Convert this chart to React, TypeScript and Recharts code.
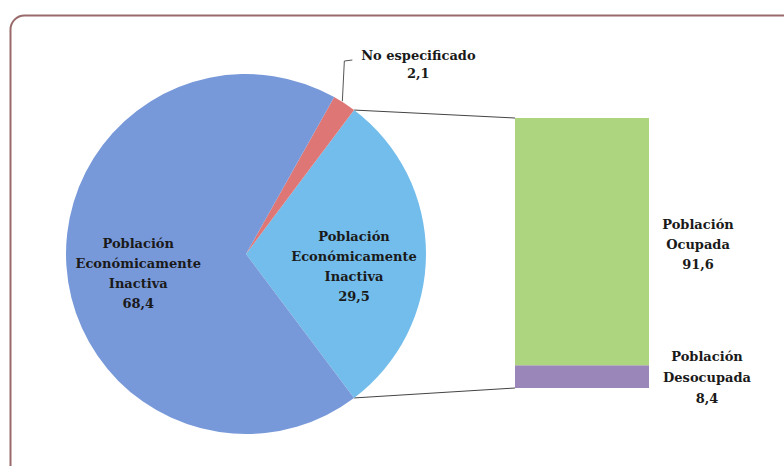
import React from "react";
import { PieChart, Pie, Cell, BarChart, Bar, XAxis, YAxis } from "recharts";

// pie: population by activity status (%)
const pieNames = ["Población Económicamente Inactiva", "No especificado", "Población Económicamente Inactiva"];
const pieLines = [
  ["Población", "Económicamente", "Inactiva"],
  ["No especificado"],
  ["Población", "Económicamente", "Inactiva"],
];
const pieValues = [29.5, 2.1, 68.4];
const pieColors = ["#72bdeb", "#de7676", "#7899d9"];

// bar: breakdown of the exploded slice (%)
const barNames = ["Población Desocupada", "Población Ocupada"];
const barLines = [["Población", "Desocupada"], ["Población", "Ocupada"]];
const barValues = [8.4, 91.6];
const barColors = ["#9a86b8", "#add580"];

const W = 784;
const H = 466;
const CX = 246;
const CY = 254;
const R = 180;
const BAR = { left: 515, right: 649, top: 118, bottom: 388 };

const FONT = "'DejaVu Serif', 'Liberation Serif', serif";
const fmt = (v: number) => v.toFixed(1).replace(".", ",");
const RAD = Math.PI / 180;

const pieData = pieValues.map((v, i) => ({ name: pieNames[i], lines: pieLines[i], value: v }));
const barRow: Record<string, number | string> = { cat: "PEA" };
barNames.forEach((n, i) => (barRow[n] = barValues[i]));

// the exploded slice is centered on the right side
const startAngle = -(pieValues[0] / 100) * 180;

function PieLabel(props: any) {
  const { cx, cy, midAngle, outerRadius, index, payload } = props;
  const lines: string[] = payload.lines ?? pieLines[index];
  const value = pieValues[index];
  const txt = { fontFamily: FONT, fontSize: 13, fontWeight: 700, fill: "#1a1a1a" };
  if (index === 1) {
    const ex = cx + outerRadius * Math.cos(midAngle * RAD);
    const ey = cy - outerRadius * Math.sin(midAngle * RAD);
    const ly = 61;
    return (
      <g>
        <path d={`M${ex - 2},${ey - 2} L${ex},${ly} L${ex + 8},${ly - 1}`} stroke="#555" fill="none" strokeWidth={1} />
        <text x={ex + 74} y={ly - 1} textAnchor="middle" style={txt}>{lines[0]}</text>
        <text x={ex + 74} y={ly + 17} textAnchor="middle" style={txt}>{fmt(value)}</text>
      </g>
    );
  }
  const rr = outerRadius * 0.6;
  const x = cx + rr * Math.cos(midAngle * RAD);
  const y = cy - rr * Math.sin(midAngle * RAD) + 12;
  const all = [...lines, fmt(value)];
  const top = y - ((all.length - 1) * 20) / 2;
  return (
    <g>
      {all.map((l, k) => (
        <text key={k} x={x} y={top + k * 20} textAnchor="middle" dominantBaseline="central" style={txt}>{l}</text>
      ))}
    </g>
  );
}

export default function App() {
  const a0 = startAngle * RAD;
  const a1 = -startAngle * RAD;
  const p0 = { x: CX + R * Math.cos(a1), y: CY - R * Math.sin(a1) };
  const p1 = { x: CX + R * Math.cos(a0), y: CY - R * Math.sin(a0) };
  const txt = { fontFamily: FONT, fontSize: 13, fontWeight: 700, fill: "#1a1a1a" };
  const barH = BAR.bottom - BAR.top;
  const ocTop = BAR.top;
  const deTop = BAR.bottom - (barValues[0] / 100) * barH;
  return (
    <div style={{ position: "absolute", left: 0, top: 0, width: W, height: H, background: "#fff", overflow: "hidden" }}>
      <svg width={W} height={H} style={{ position: "absolute", left: 0, top: 0 }}>
        <rect x={10.5} y={15.5} width={800} height={470} rx={14} fill="none" stroke="#9a6a6a" strokeWidth={2} />
        <line x1={p0.x} y1={p0.y} x2={BAR.left} y2={BAR.top} stroke="#444" strokeWidth={1} />
        <line x1={p1.x} y1={p1.y} x2={BAR.left} y2={BAR.bottom} stroke="#444" strokeWidth={1} />
      </svg>
      <div style={{ position: "absolute", left: 0, top: 0 }}>
        <PieChart width={W} height={H} margin={{ top: 0, right: 0, bottom: 0, left: 0 }}>
          <Pie
            data={pieData}
            dataKey="value"
            cx={CX}
            cy={CY}
            outerRadius={R}
            startAngle={startAngle}
            endAngle={startAngle + 360}
            stroke="none"
            labelLine={false}
            label={PieLabel}
            isAnimationActive={false}
          >
            {pieData.map((d, i) => (
              <Cell key={i} fill={pieColors[i]} />
            ))}
          </Pie>
        </PieChart>
      </div>
      <div style={{ position: "absolute", left: 0, top: 0 }}>
        <BarChart
          width={W}
          height={H}
          data={[barRow]}
          margin={{ top: BAR.top, bottom: H - BAR.bottom, left: BAR.left, right: W - BAR.right }}
          barCategoryGap={0}
        >
          <XAxis dataKey="cat" hide />
          <YAxis hide domain={[0, 100]} />
          {barNames.map((n, i) => (
            <Bar key={n} dataKey={n} stackId="a" fill={barColors[i]} isAnimationActive={false} />
          ))}
        </BarChart>
      </div>
      <svg width={W} height={H} style={{ position: "absolute", left: 0, top: 0, pointerEvents: "none" }}>
        {[...barLines[1], fmt(barValues[1])].map((l, k) => (
          <text key={"o" + k} x={698} y={ocTop + 106 + k * 20} textAnchor="middle" dominantBaseline="central" style={txt}>{l}</text>
        ))}
        {[...barLines[0], fmt(barValues[0])].map((l, k) => (
          <text key={"d" + k} x={707} y={deTop - 9 + k * 21} textAnchor="middle" dominantBaseline="central" style={txt}>{l}</text>
        ))}
      </svg>
    </div>
  );
}
